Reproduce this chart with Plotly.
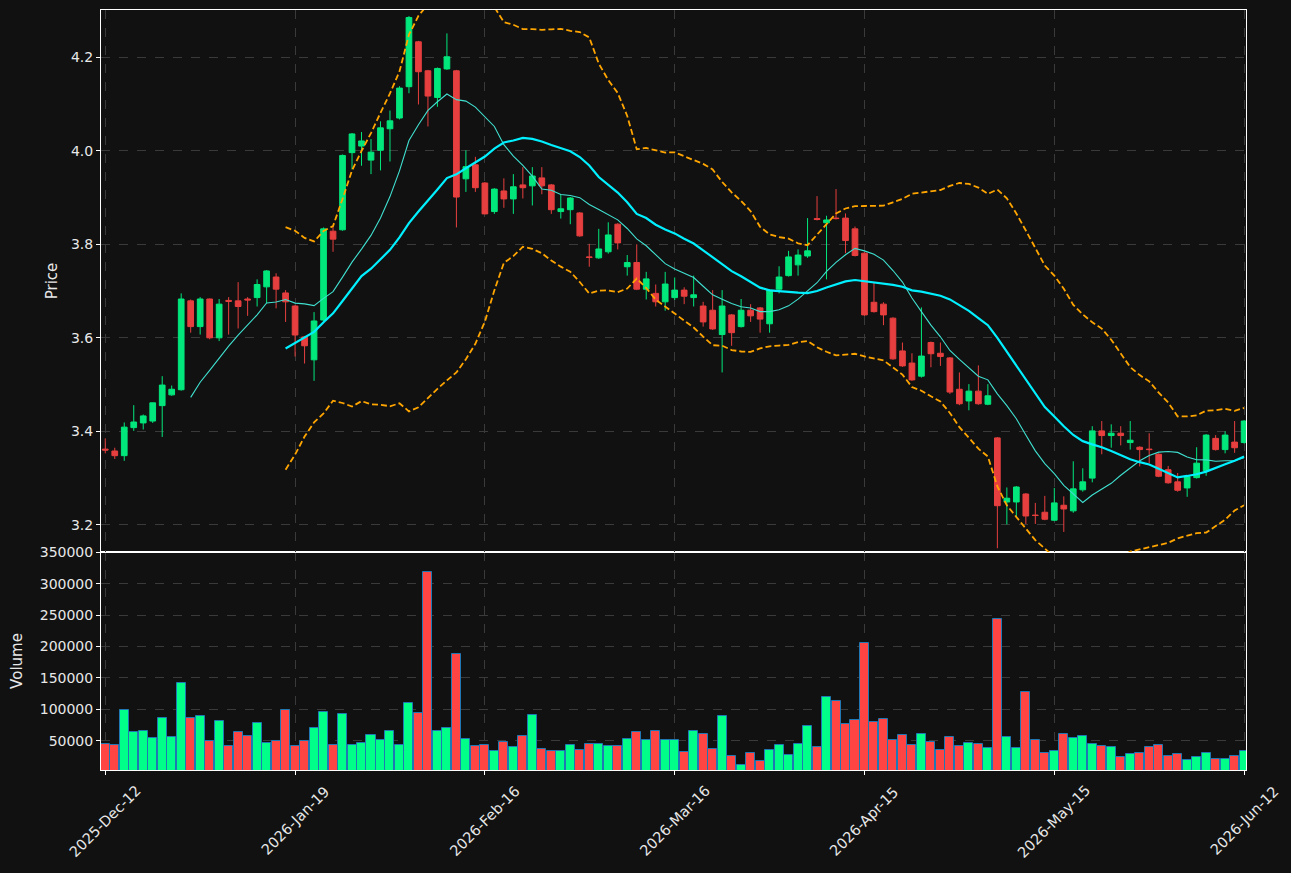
import plotly.graph_objects as go
import pandas as pd

tick_labels = ["2025-Dec-12", "2026-Jan-19", "2026-Feb-16", "2026-Mar-16",
               "2026-Apr-15", "2026-May-15", "2026-Jun-12"]

opens = [3.362, 3.358, 3.348, 3.408, 3.418, 3.422, 3.455, 3.478, 3.489, 3.679,
         3.624, 3.683, 3.600, 3.680, 3.679, 3.683, 3.686, 3.709, 3.730, 3.696,
         3.668, 3.602, 3.553, 3.638, 3.828, 3.831, 3.996, 4.010, 3.980, 4.001,
         4.047, 4.070, 4.137, 4.233, 4.171, 4.114, 4.175, 4.171, 3.940, 3.970,
         3.931, 3.870, 3.914, 3.897, 3.927, 3.925, 3.942, 3.927, 3.870, 3.874,
         3.867, 3.773, 3.771, 3.784, 3.843, 3.752, 3.761, 3.704, 3.695, 3.677,
         3.686, 3.702, 3.686, 3.668, 3.659, 3.607, 3.649, 3.624, 3.659, 3.664,
         3.630, 3.704, 3.733, 3.756, 3.775, 3.855, 3.846, 3.856, 3.856, 3.833,
         3.781, 3.676, 3.672, 3.642, 3.572, 3.546, 3.518, 3.590, 3.567, 3.557,
         3.490, 3.465, 3.486, 3.458, 3.386, 3.249, 3.249, 3.266, 3.221, 3.227,
         3.210, 3.242, 3.230, 3.275, 3.300, 3.401, 3.391, 3.396, 3.376, 3.366,
         3.362, 3.351, 3.318, 3.292, 3.279, 3.301, 3.316, 3.385, 3.361, 3.377,
         3.376]

highs = [3.385, 3.365, 3.419, 3.456, 3.436, 3.461, 3.518, 3.498, 3.695, 3.682,
         3.687, 3.684, 3.683, 3.687, 3.719, 3.687, 3.725, 3.745, 3.738, 3.702,
         3.670, 3.604, 3.655, 3.836, 3.839, 3.992, 4.038, 4.040, 4.025, 4.063,
         4.086, 4.138, 4.288, 4.235, 4.173, 4.178, 4.251, 4.173, 4.001, 3.987,
         3.933, 3.920, 3.941, 3.950, 3.965, 3.965, 3.965, 3.929, 3.907, 3.901,
         3.869, 3.801, 3.833, 3.847, 3.845, 3.777, 3.800, 3.741, 3.714, 3.741,
         3.729, 3.708, 3.733, 3.677, 3.702, 3.702, 3.651, 3.683, 3.672, 3.666,
         3.704, 3.753, 3.786, 3.789, 3.856, 3.903, 3.861, 3.918, 3.866, 3.838,
         3.783, 3.718, 3.676, 3.644, 3.590, 3.567, 3.665, 3.592, 3.590, 3.559,
         3.526, 3.501, 3.541, 3.501, 3.388, 3.280, 3.283, 3.268, 3.247, 3.262,
         3.279, 3.261, 3.336, 3.321, 3.411, 3.422, 3.415, 3.411, 3.422, 3.368,
         3.396, 3.353, 3.326, 3.311, 3.305, 3.366, 3.394, 3.392, 3.400, 3.422,
         3.424]

lows = [3.353, 3.341, 3.337, 3.401, 3.404, 3.418, 3.388, 3.476, 3.487, 3.611,
        3.607, 3.597, 3.593, 3.607, 3.620, 3.647, 3.667, 3.674, 3.663, 3.634,
        3.560, 3.545, 3.508, 3.636, 3.784, 3.829, 3.960, 3.968, 3.950, 3.958,
        3.977, 4.067, 4.123, 4.099, 4.052, 4.094, 4.173, 3.836, 3.912, 3.912,
        3.864, 3.865, 3.878, 3.865, 3.898, 3.883, 3.907, 3.865, 3.855, 3.843,
        3.816, 3.752, 3.769, 3.780, 3.789, 3.733, 3.702, 3.682, 3.667, 3.658,
        3.681, 3.672, 3.667, 3.624, 3.617, 3.526, 3.583, 3.622, 3.634, 3.611,
        3.611, 3.695, 3.731, 3.733, 3.771, 3.851, 3.725, 3.853, 3.781, 3.774,
        3.647, 3.654, 3.627, 3.553, 3.538, 3.508, 3.515, 3.537, 3.540, 3.480,
        3.456, 3.445, 3.457, 3.456, 3.150, 3.201, 3.215, 3.202, 3.202, 3.210,
        3.208, 3.185, 3.226, 3.271, 3.291, 3.351, 3.365, 3.370, 3.361, 3.325,
        3.332, 3.302, 3.288, 3.271, 3.260, 3.299, 3.305, 3.359, 3.353, 3.354,
        3.374]

closes = [3.360, 3.348, 3.409, 3.420, 3.433, 3.461, 3.499, 3.490, 3.683, 3.624,
          3.683, 3.600, 3.672, 3.678, 3.667, 3.681, 3.714, 3.743, 3.704, 3.677,
          3.606, 3.583, 3.636, 3.833, 3.811, 3.990, 4.036, 4.021, 3.997, 4.049,
          4.064, 4.134, 4.285, 4.169, 4.117, 4.176, 4.201, 3.901, 3.966, 3.921,
          3.865, 3.918, 3.897, 3.923, 3.921, 3.946, 3.925, 3.874, 3.876, 3.899,
          3.818, 3.772, 3.790, 3.820, 3.803, 3.761, 3.704, 3.726, 3.677, 3.715,
          3.702, 3.689, 3.692, 3.634, 3.619, 3.668, 3.611, 3.659, 3.647, 3.640,
          3.702, 3.730, 3.773, 3.777, 3.786, 3.853, 3.852, 3.855, 3.808, 3.776,
          3.649, 3.656, 3.649, 3.555, 3.540, 3.510, 3.561, 3.566, 3.560, 3.484,
          3.459, 3.486, 3.459, 3.476, 3.241, 3.257, 3.281, 3.219, 3.220, 3.212,
          3.247, 3.234, 3.277, 3.292, 3.401, 3.391, 3.396, 3.391, 3.381, 3.361,
          3.361, 3.304, 3.290, 3.274, 3.303, 3.332, 3.392, 3.361, 3.392, 3.365,
          3.422]

volumes = [44250, 42650, 98600, 63400, 66000, 53800, 86800, 56400, 141700, 86800,
           90000, 49000, 82000, 41000, 64400, 58000, 78800, 45800, 49000, 99500,
           42000, 49000, 70800, 96300, 43600, 93200, 43600, 46800, 59600, 51600,
           66000, 43600, 110700, 94800, 318500, 66000, 70800, 187500, 53200, 42000,
           43600, 33000, 47400, 39400, 57000, 90600, 36300, 33000, 33000, 42600,
           34700, 44200, 44200, 41000, 41000, 52200, 63400, 50600, 65000, 50600,
           50600, 31500, 65000, 60200, 36300, 89000, 25100, 11600, 29900, 17100,
           34700, 42600, 26700, 44200, 73000, 39400, 119400, 113000, 76200, 82600,
           205700, 79400, 84200, 50600, 58600, 42600, 60200, 47400, 34700, 55400,
           41000, 45800, 44200, 37800, 244000, 55400, 37800, 127400, 50600, 29900,
           33000, 60200, 53800, 57000, 44200, 41000, 39400, 23500, 28300, 29900,
           39400, 42600, 25100, 28300, 18700, 23500, 29900, 20300, 20300, 25100,
           33000]

N = len(closes)
x = list(range(N))
tick_pos = list(range(0, N, 20))

s = pd.Series(closes)
ma10 = s.rolling(10).mean()
ma20 = s.rolling(20).mean()
sd20 = s.rolling(20).std(ddof=0)
upper = ma20 + 2 * sd20
lower = ma20 - 2 * sd20

UP_C = "#02e77c"
DN_C = "#e73f3f"
UP_V = "#00ff88"
DN_V = "#ff4444"
BG = "#111111"
GRID = "#3a3a3a"
TXT = "#e8e8e8"
FONT = "DejaVu Sans"

vcolors = [UP_V if c >= o else DN_V for o, c in zip(opens, closes)]

fig = go.Figure()
fig.add_trace(go.Candlestick(
    x=x, open=opens, high=highs, low=lows, close=closes,
    xaxis="x2", yaxis="y2", whiskerwidth=0,
    increasing=dict(line=dict(color=UP_C, width=1), fillcolor=UP_C),
    decreasing=dict(line=dict(color=DN_C, width=1), fillcolor=DN_C),
    showlegend=False, hoverinfo="skip"))
fig.add_trace(go.Scatter(x=x, y=ma10, mode="lines", xaxis="x2", yaxis="y2",
                         line=dict(color="#40e0d0", width=1.1), showlegend=False))
fig.add_trace(go.Scatter(x=x, y=ma20, mode="lines", xaxis="x2", yaxis="y2",
                         line=dict(color="#00f0ff", width=2.2), showlegend=False))
for band in (upper, lower):
    fig.add_trace(go.Scatter(x=x, y=band, mode="lines", xaxis="x2", yaxis="y2",
                             line=dict(color="#ffa500", width=1.8, dash="6px,3px"),
                             showlegend=False))
fig.add_trace(go.Bar(x=x, y=volumes, width=0.95,
                     marker=dict(color=vcolors, line=dict(color="#1f77b4", width=1)),
                     showlegend=False))

split = 218 / 760
xr = [-0.45, N - 1 + 0.2]
common_x = dict(range=xr, tickvals=tick_pos, ticktext=[""] * len(tick_pos),
                showgrid=True, gridcolor=GRID, griddash="dash", gridwidth=1,
                showline=True, linecolor="white", linewidth=1, mirror=True,
                zeroline=False, automargin=False)
annotations = [dict(x=p, xref="x", y=(770 - 821) / 760, yref="paper",
                    text=lab, textangle=-45, showarrow=False,
                    xanchor="center", yanchor="middle",
                    font=dict(family=FONT, size=14.5, color=TXT))
               for p, lab in zip(tick_pos, tick_labels)]

fig.update_layout(
    width=1291, height=873,
    paper_bgcolor=BG, plot_bgcolor=BG,
    margin=dict(l=101, r=45, t=10, b=103, autoexpand=False),
    font=dict(family=FONT, size=14, color=TXT),
    boxgap=0.4, boxgroupgap=0,
    bargap=0,
    annotations=annotations,
    xaxis=dict(domain=[0, 1], anchor="y", ticks="outside",
               tickcolor="white", ticklen=4, **common_x),
    xaxis2=dict(domain=[0, 1], anchor="y2", matches="x", showticklabels=False,
                rangeslider=dict(visible=False), ticks="", **common_x),
    yaxis=dict(domain=[0, split], range=[0.3 * min(volumes), 1.1 * max(volumes)],
               tickvals=list(range(50000, 350001, 50000)), tickformat="d",
               showgrid=True, gridcolor=GRID, griddash="dash",
               showline=True, linecolor="white", mirror=True, zeroline=False,
               ticks="outside", tickcolor="white", ticklen=4, automargin=False,
               title=dict(text="Volume", standoff=13, font=dict(size=15))),
    yaxis2=dict(domain=[split, 1], range=[3.142, 4.301], dtick=0.2, tick0=3.2,
                tickformat=".1f",
                showgrid=True, gridcolor=GRID, griddash="dash",
                showline=True, linecolor="white", mirror=True, zeroline=False,
                ticks="outside", tickcolor="white", ticklen=4, automargin=False,
                title=dict(text="Price", standoff=9, font=dict(size=15))),
)

fig.write_html("out.html")
